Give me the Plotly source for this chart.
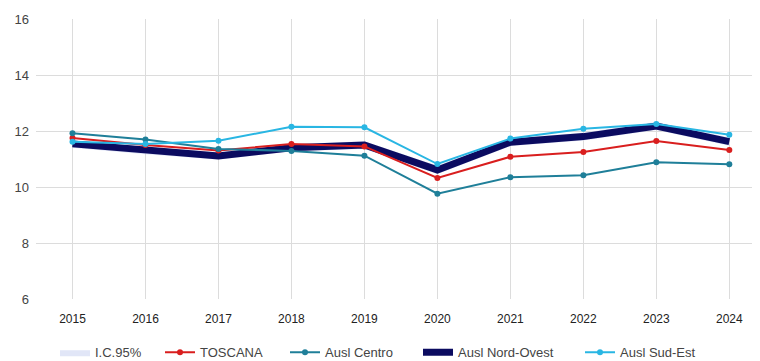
import plotly.graph_objects as go

anni = ["2015", "2016", "2017", "2018", "2019", "2020", "2021", "2022", "2023", "2024"]

toscana = [11.75, 11.50, 11.30, 11.54, 11.45, 10.32, 11.08, 11.25, 11.64, 11.32]
centro = [11.92, 11.70, 11.36, 11.29, 11.12, 9.76, 10.35, 10.42, 10.88, 10.81]
nord_ovest = [11.54, 11.30, 11.11, 11.40, 11.50, 10.61, 11.60, 11.80, 12.18, 11.62]
sud_est = [11.62, 11.54, 11.65, 12.15, 12.13, 10.82, 11.73, 12.08, 12.25, 11.87]

# intervallo di confidenza (Ausl Nord-Ovest)
ic_low = [11.40, 11.17, 10.98, 11.27, 11.37, 10.46, 11.46, 11.66, 12.04, 11.47]
ic_high = [11.68, 11.43, 11.24, 11.53, 11.63, 10.76, 11.74, 11.94, 12.32, 11.77]

fig = go.Figure()

fig.add_trace(go.Scatter(
    x=anni + anni[::-1], y=ic_high + ic_low[::-1],
    fill="toself", fillcolor="rgba(200,210,240,0.55)",
    line=dict(width=0), mode="lines", name="I.C.95%",
    hoverinfo="skip", legend="legend",
))
fig.add_trace(go.Scatter(
    x=anni, y=nord_ovest, mode="lines", name="Ausl Nord-Ovest",
    line=dict(color="#0b0b60", width=7), legend="legend4",
))
fig.add_trace(go.Scatter(
    x=anni, y=toscana, mode="lines+markers", name="TOSCANA",
    line=dict(color="#d91e1e", width=2), marker=dict(size=6), legend="legend2",
))
fig.add_trace(go.Scatter(
    x=anni, y=centro, mode="lines+markers", name="Ausl Centro",
    line=dict(color="#1f7f99", width=2), marker=dict(size=6), legend="legend3",
))
fig.add_trace(go.Scatter(
    x=anni, y=sud_est, mode="lines+markers", name="Ausl Sud-Est",
    line=dict(color="#29b6e3", width=2), marker=dict(size=6), legend="legend5",
))

def leg(px):
    return dict(
        xref="container", yref="container", x=px / 760, xanchor="left",
        y=0.005, yanchor="bottom", orientation="h",
        font=dict(size=13, color="#444"), bgcolor="rgba(0,0,0,0)",
    )

# the page body adds an 8px offset, so margins are compensated
fig.update_layout(
    width=760, height=361,
    margin=dict(l=28, r=0, t=11, b=70, autoexpand=False),
    paper_bgcolor="white", plot_bgcolor="white",
    font=dict(family="Liberation Sans, Arial, sans-serif", color="#333"),
    showlegend=True,
    legend=leg(47), legend2=leg(152), legend3=leg(277),
    legend4=leg(410), legend5=leg(572),
    xaxis=dict(
        type="category", range=[-0.5, 9.53], automargin=False,
        showgrid=True, gridcolor="#dcdcdc", gridwidth=1,
        showline=False, zeroline=False, ticks="",
        tickfont=dict(size=12, color="#222"), ticklabelstandoff=11,
    ),
    yaxis=dict(
        range=[6, 16], dtick=2, automargin=False,
        showgrid=True, gridcolor="#dcdcdc", gridwidth=1,
        showline=False, zeroline=False, ticks="",
        tickfont=dict(size=13, color="#444"), ticklabelstandoff=6,
    ),
)

fig.write_html("out.html")
